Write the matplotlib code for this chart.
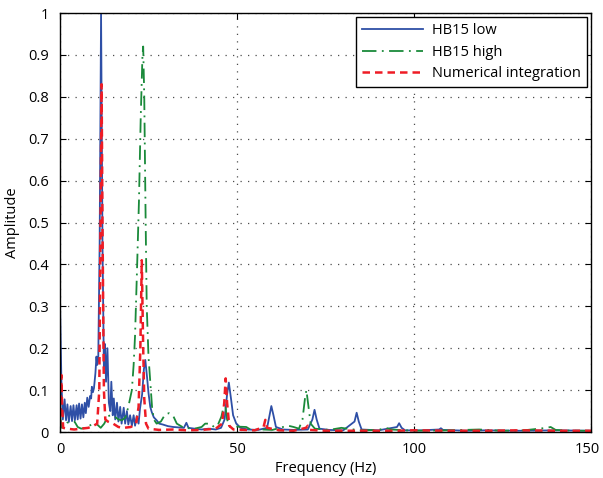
import matplotlib
matplotlib.use("Agg")
import matplotlib.pyplot as plt
import matplotlib.transforms as mtransforms

plt.rcParams['font.family'] = ['Open Sans', 'DejaVu Sans']

# HB15 low (blue)
f_low = [0.0, 0.4, 0.8, 1.3, 1.7, 2.1, 2.5, 3.0, 3.4, 3.8, 4.2, 4.7, 5.0, 5.4, 5.8,
         6.2, 6.6, 7.0, 7.3, 7.7, 8.1, 8.5, 8.8, 9.0, 9.3, 9.6, 10.0, 10.3, 10.5, 10.8,
         11.2, 11.6, 12.0, 12.4, 12.7, 13.0, 13.4, 13.8, 14.2, 14.5, 14.9, 15.2, 15.6,
         16.1, 16.5, 17.0, 17.4, 18.0, 18.4, 18.9, 19.3, 19.8, 20.3, 20.8, 21.2, 21.7,
         22.2, 22.6, 23.2, 23.7, 24.1, 24.6, 25.0, 25.5, 25.9, 26.5, 27.3, 28.0, 29.0,
         30.5, 32.0, 33.5, 35.0, 35.7, 36.3, 38.0, 40.0, 42.0, 44.0, 45.5, 46.5, 47.2,
         47.7, 48.3, 48.9, 49.8, 51.0, 53.0, 56.0, 58.5, 59.2, 59.7, 60.3, 61.0, 63.0,
         66.0, 70.0, 71.3, 71.9, 72.5, 73.3, 76.0, 80.0, 83.2, 83.8, 84.4, 85.2, 90.0,
         95.2, 95.8, 96.5, 97.5, 102.0, 107.1, 107.6, 108.2, 115.0, 120.0, 130.0, 140.0, 150.0]
a_low = [0.31, 0.12, 0.03, 0.078, 0.028, 0.066, 0.024, 0.062, 0.026, 0.064, 0.028, 0.064, 0.030, 0.068, 0.032,
         0.066, 0.035, 0.070, 0.045, 0.082, 0.060, 0.086, 0.080, 0.108, 0.095, 0.105, 0.14, 0.18, 0.16, 0.17,
         0.45, 1.0, 0.45, 0.15, 0.21, 0.12, 0.20, 0.07, 0.05, 0.12, 0.04, 0.08, 0.03,
         0.07, 0.025, 0.06, 0.02, 0.058, 0.02, 0.05, 0.018, 0.04, 0.015, 0.04, 0.015, 0.038,
         0.02, 0.056, 0.09, 0.15, 0.172, 0.13, 0.093, 0.06, 0.048, 0.035, 0.028, 0.02, 0.018,
         0.014, 0.012, 0.011, 0.01, 0.022, 0.01, 0.008, 0.006, 0.008, 0.006, 0.01, 0.03, 0.09,
         0.118, 0.08, 0.04, 0.02, 0.01, 0.006, 0.005, 0.01, 0.04, 0.062, 0.04, 0.012, 0.006,
         0.005, 0.006, 0.03, 0.053, 0.03, 0.008, 0.005, 0.004, 0.025, 0.046, 0.025, 0.006, 0.004,
         0.012, 0.021, 0.01, 0.004, 0.004, 0.006, 0.009, 0.005, 0.003, 0.004, 0.003, 0.004, 0.003]

# HB15 high (green)
f_high = [0.0, 0.5, 1.0, 2.0, 3.0, 4.1, 5.0, 6.0, 7.0, 8.0, 9.0, 10.5, 11.5, 12.5, 13.5,
          14.5, 15.4, 16.5, 17.5, 18.5, 19.3, 20.3, 20.8, 21.2, 21.8, 22.3, 22.8, 23.3, 23.5,
          23.8, 24.2, 24.5, 25.0, 25.5, 26.0, 26.5, 27.3, 28.5, 29.7, 30.8, 32.0, 33.0, 35.0,
          38.0, 40.0, 41.0, 42.5, 43.5, 44.5, 45.6, 46.2, 46.6, 47.2, 48.0, 49.8, 52.6, 54.0,
          57.0, 60.0, 63.0, 64.5, 66.0, 67.5, 68.5, 69.2, 69.6, 70.2, 70.8, 72.0, 76.0, 79.5,
          81.0, 85.0, 90.0, 92.0, 93.5, 100.0, 110.0, 118.4, 125.0, 131.0, 137.5, 138.6, 140.0,
          145.0, 150.0]
a_high = [0.04, 0.01, 0.012, 0.022, 0.025, 0.025, 0.012, 0.008, 0.01, 0.014, 0.018, 0.018, 0.01, 0.02, 0.038,
          0.04, 0.037, 0.03, 0.028, 0.035, 0.06, 0.10, 0.16, 0.23, 0.40, 0.55, 0.75, 0.90, 0.92,
          0.80, 0.50, 0.30, 0.18, 0.12, 0.06, 0.03, 0.02, 0.025, 0.042, 0.045, 0.038, 0.02, 0.01,
          0.008, 0.012, 0.02, 0.02, 0.012, 0.015, 0.037, 0.06, 0.07, 0.03, 0.012, 0.013, 0.012, 0.005,
          0.006, 0.005, 0.012, 0.015, 0.012, 0.008, 0.03, 0.08, 0.10, 0.06, 0.02, 0.008, 0.005, 0.01,
          0.008, 0.004, 0.005, 0.01, 0.006, 0.003, 0.004, 0.006, 0.003, 0.004, 0.01, 0.012, 0.005,
          0.003, 0.003]

# Numerical integration (red)
f_num = [0.0, 0.2, 0.4, 0.6, 0.9, 2.0, 4.0, 6.0, 8.0, 9.5, 10.5, 11.1, 11.5, 11.75, 12.0,
         12.4, 12.8, 13.5, 15.0, 16.5, 18.0, 20.0, 21.5, 22.2, 22.7, 23.1, 23.5, 23.8, 24.3,
         25.0, 28.0, 32.0, 36.0, 40.0, 44.0, 45.8, 46.4, 46.8, 47.2, 47.8, 49.0, 52.0, 55.0,
         57.5, 58.0, 58.5, 62.0, 66.0, 69.5, 70.0, 70.5, 75.0, 85.0, 95.0, 100.0, 110.0, 120.0,
         130.0, 140.0, 150.0]
a_num = [0.01, 0.06, 0.136, 0.06, 0.01, 0.008, 0.006, 0.008, 0.01, 0.015, 0.02, 0.10, 0.55, 0.83, 0.50,
         0.10, 0.03, 0.025, 0.02, 0.012, 0.01, 0.012, 0.02, 0.06, 0.2, 0.41, 0.2, 0.08, 0.02,
         0.008, 0.005, 0.006, 0.004, 0.005, 0.008, 0.02, 0.07, 0.128, 0.07, 0.015, 0.006, 0.005, 0.004,
         0.012, 0.029, 0.01, 0.004, 0.003, 0.01, 0.015, 0.005, 0.003, 0.003, 0.003, 0.004, 0.003, 0.003,
         0.004, 0.003, 0.003]

fig = plt.figure(figsize=(6.03, 4.78), dpi=100)
ax = fig.add_axes([0.0995, 0.0962, 0.8806, 0.8766])

ax.plot(f_low, a_low, color='#2e4fa6', lw=1.3, label='HB15 low')
ax.plot(f_high, a_high, color='#1a8a3a', lw=1.3, ls=(0, (8, 3, 1, 3)), label='HB15 high')
ax.plot(f_num, a_num, color='#ee1c25', lw=1.8, ls=(0, (3, 2)), label='Numerical integration')

ax.set_xlim(0, 150)
ax.set_ylim(0, 1)
ax.set_xticks([0, 50, 100, 150])
ax.set_yticks([0, 0.1, 0.2, 0.3, 0.4, 0.5, 0.6, 0.7, 0.8, 0.9, 1])
ax.set_yticklabels(['0', '0.1', '0.2', '0.3', '0.4', '0.5', '0.6', '0.7', '0.8', '0.9', '1'])
ax.grid(True, ls=(0, (1, 5)), color='0.3', lw=0.9)
ax.tick_params(direction='in', top=True, right=True, labelsize=10.5, length=4)
ax.tick_params(axis='x', pad=7)
ax.tick_params(axis='y', pad=8)
for s in ax.spines.values():
    s.set_linewidth(1.0)

# nudge the last x label left so it stays inside the figure
last = ax.get_xticklabels()[-1]
last.set_transform(last.get_transform() + mtransforms.ScaledTranslation(-0.04, 0, fig.dpi_scale_trans))

ax.set_xlabel('Frequency (Hz)', fontsize=10.5, labelpad=3)
ax.set_ylabel('Amplitude', fontsize=10.5, labelpad=6)

leg = ax.legend(loc='upper right', fontsize=10.5, fancybox=False, framealpha=1,
                edgecolor='black', borderaxespad=0.3, handlelength=4.2, borderpad=0.4,
                labelspacing=0.45, handletextpad=0.6)
leg.get_frame().set_linewidth(1.0)

plt.savefig('out.png', dpi=100)
